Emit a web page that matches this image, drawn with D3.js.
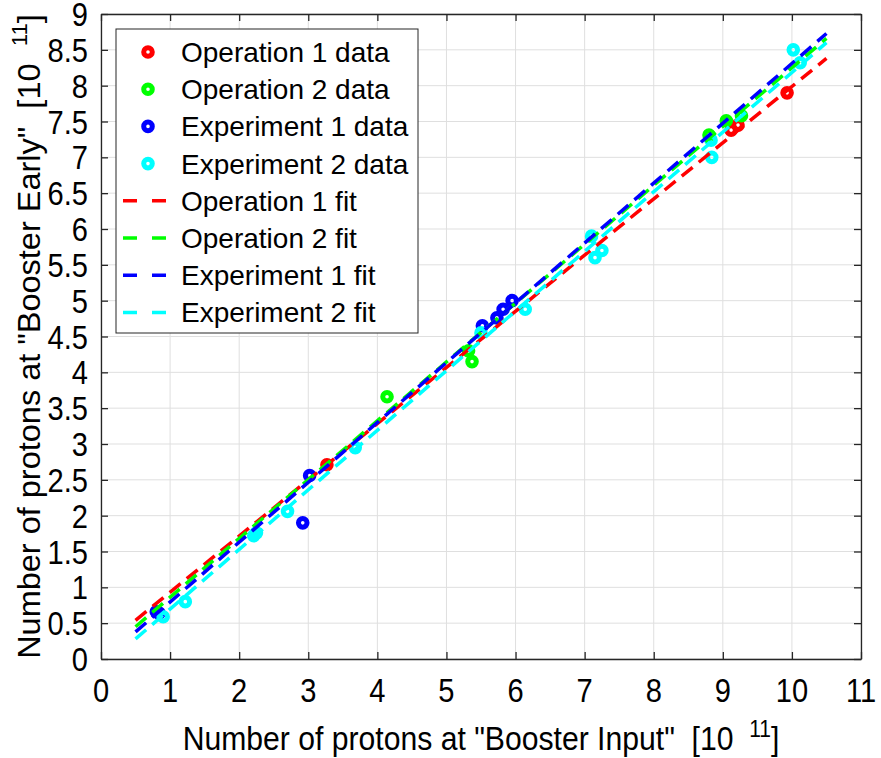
<!DOCTYPE html>
<html>
<head>
<meta charset="utf-8">
<script src="https://cdn.jsdelivr.net/npm/d3@7"></script>
<style>
  html, body { margin: 0; padding: 0; background: #fff; }
  svg { display: block; font-family: "Liberation Sans", Arial, sans-serif; }
</style>
</head>
<body>
<div id="chart"></div>
<script>
'use strict';

// measured data, units of 1e11 protons
const op1X = [3.27, 9.12, 9.22, 9.93];
const op1Y = [2.71, 7.38, 7.45, 7.90];

const op2X = [4.14, 5.32, 5.37, 8.80, 9.05, 9.27];
const op2Y = [3.66, 4.30, 4.15, 7.31, 7.51, 7.58];

const exp1X = [0.80, 0.84, 2.92, 3.02, 5.52, 5.73, 5.82, 5.95];
const exp1Y = [0.66, 0.64, 1.90, 2.56, 4.65, 4.76, 4.88, 5.00];

const exp2X = [0.90, 1.22, 2.21, 2.25, 2.70, 3.68, 5.50, 6.14, 7.10, 7.15, 7.25, 8.84, 8.83, 10.02, 10.12];
const exp2Y = [0.59, 0.80, 1.72, 1.76, 2.06, 2.95, 4.55, 4.88, 5.90, 5.60, 5.70, 7.00, 7.24, 8.50, 8.32];

// linear fits y = a*x + b, drawn over x in [0.5, 10.5]
const fitSlope = [0.784, 0.821, 0.835, 0.832];
const fitIntercept = [0.148, 0.040, -0.040, -0.136];
const fitRange = [0.5, 10.5];

const seriesNames = ["Operation 1", "Operation 2", "Experiment 1", "Experiment 2"];
const seriesColors = ["#ff0000", "#00ff00", "#0000ff", "#00ffff"];

const xTicks = d3.range(0, 12, 1);
const yTicks = d3.range(0, 9.01, 0.5);

const W = 881, H = 758;
const margin = { left: 101, right: 20, top: 14, bottom: 99 };
const pw = W - margin.left - margin.right;
const ph = H - margin.top - margin.bottom;

const svg = d3.select("#chart")
    .append("svg")
    .attr("width", W)
    .attr("height", H);

const x = d3.scaleLinear().domain([0, 11]).range([0, pw]);
const y = d3.scaleLinear().domain([0, 9]).range([ph, 0]);

const g = svg.append("g")
    .attr("transform", "translate(" + margin.left + "," + margin.top + ")");

// grid
g.append("g").selectAll("line")
    .data(xTicks)
    .enter().append("line")
    .attr("x1", d => x(d)).attr("x2", d => x(d))
    .attr("y1", 0).attr("y2", ph)
    .attr("stroke", "#dfdfdf").attr("stroke-width", 1);

g.append("g").selectAll("line")
    .data(yTicks)
    .enter().append("line")
    .attr("x1", 0).attr("x2", pw)
    .attr("y1", d => y(d)).attr("y2", d => y(d))
    .attr("stroke", "#dfdfdf").attr("stroke-width", 1);

// axes, ticks inward on all four sides
const tickLen = 7;
const axisColor = "#262626";

function styleAxis(sel) {
    sel.select(".domain").attr("stroke", axisColor).attr("stroke-width", 1.3);
    sel.selectAll(".tick line").attr("stroke", axisColor).attr("stroke-width", 1.3);
    sel.selectAll(".tick text").remove();
}

g.append("g").attr("transform", "translate(0," + ph + ")")
    .call(d3.axisBottom(x).tickValues(xTicks).tickSize(-tickLen).tickSizeOuter(0))
    .call(styleAxis);
g.append("g")
    .call(d3.axisTop(x).tickValues(xTicks).tickSize(-tickLen).tickSizeOuter(0))
    .call(styleAxis);
g.append("g")
    .call(d3.axisLeft(y).tickValues(yTicks).tickSize(-tickLen).tickSizeOuter(0))
    .call(styleAxis);
g.append("g").attr("transform", "translate(" + pw + ",0)")
    .call(d3.axisRight(y).tickValues(yTicks).tickSize(-tickLen).tickSizeOuter(0))
    .call(styleAxis);

// tick labels (tall, narrow look)
const tickFont = 30, tickSquashX = 0.97, tickStretchY = 1.12;

g.append("g").selectAll("text")
    .data(xTicks)
    .enter().append("text")
    .attr("transform", d => "translate(" + x(d) + "," + (ph + 43) + ") scale(" + tickSquashX + "," + tickStretchY + ")")
    .attr("text-anchor", "middle")
    .attr("font-size", tickFont)
    .attr("fill", "#000")
    .text(d => d);

g.append("g").selectAll("text")
    .data(yTicks)
    .enter().append("text")
    .attr("transform", d => "translate(-13," + (y(d) + 12) + ") scale(" + tickSquashX + "," + tickStretchY + ")")
    .attr("text-anchor", "end")
    .attr("font-size", tickFont)
    .attr("fill", "#000")
    .text(d => d);

// data markers
const dataSets = [
    { xs: op1X, ys: op1Y },
    { xs: op2X, ys: op2Y },
    { xs: exp1X, ys: exp1Y },
    { xs: exp2X, ys: exp2Y }
];

dataSets.forEach(function(s, i) {
    g.append("g").selectAll("circle")
        .data(s.xs.map((v, k) => [v, s.ys[k]]))
        .enter().append("circle")
        .attr("cx", d => x(d[0]))
        .attr("cy", d => y(d[1]))
        .attr("r", 4.3)
        .attr("fill", "none")
        .attr("stroke", seriesColors[i])
        .attr("stroke-width", 5);
});

// fit lines
const line = d3.line().x(d => x(d[0])).y(d => y(d[1]));
fitSlope.forEach(function(a, i) {
    const pts = fitRange.map(v => [v, a * v + fitIntercept[i]]);
    g.append("path")
        .datum(pts)
        .attr("d", line)
        .attr("fill", "none")
        .attr("stroke", seriesColors[i])
        .attr("stroke-width", 3.5)
        .attr("stroke-dasharray", "14,8");
});

// legend
const legend = svg.append("g").attr("transform", "translate(116,29)");
legend.append("rect")
    .attr("width", 302).attr("height", 304)
    .attr("fill", "#fff")
    .attr("stroke", "#262626").attr("stroke-width", 1);

const legendItems = [];
seriesNames.forEach((n, i) => legendItems.push({ label: n + " data", kind: "data", color: seriesColors[i] }));
seriesNames.forEach((n, i) => legendItems.push({ label: n + " fit", kind: "fit", color: seriesColors[i] }));

const rowGap = 37.2;
const rows = legend.selectAll("g.item")
    .data(legendItems)
    .enter().append("g")
    .attr("class", "item")
    .attr("transform", (d, i) => "translate(0," + (23 + i * rowGap) + ")");

rows.filter(d => d.kind === "data").append("circle")
    .attr("cx", 32).attr("cy", 0).attr("r", 4.3)
    .attr("fill", "none")
    .attr("stroke", d => d.color).attr("stroke-width", 5);

rows.filter(d => d.kind === "fit").append("line")
    .attr("x1", 7).attr("x2", 50)
    .attr("y1", 0).attr("y2", 0)
    .attr("stroke", d => d.color)
    .attr("stroke-width", 3.5)
    .attr("stroke-dasharray", "14,15");

rows.append("text")
    .attr("x", 65).attr("y", 10)
    .attr("font-size", 28)
    .attr("fill", "#000")
    .text(d => d.label);

// axis titles, squeezed to the width seen in the reference
function fitWidth(textSel, target) {
    const w = textSel.node().getBBox().width;
    return target / w;
}

const xTitle = svg.append("text")
    .attr("font-size", 33)
    .attr("text-anchor", "middle")
    .attr("fill", "#000")
    .style("white-space", "pre");
xTitle.append("tspan").text('Number of protons at "Booster Input"  [10 ');
xTitle.append("tspan").attr("font-size", 23).attr("dy", -13).attr("dx", 8).text("11");
xTitle.append("tspan").attr("dy", 13).text("]");
const xs = fitWidth(xTitle, 597);
xTitle.attr("transform", "translate(" + (margin.left + pw / 2) + ",750) scale(" + xs + ",1)");

const yTitle = svg.append("text")
    .attr("font-size", 32)
    .attr("text-anchor", "middle")
    .attr("fill", "#000")
    .style("white-space", "pre");
yTitle.append("tspan").text('Number of protons at "Booster Early"  [10 ');
yTitle.append("tspan").attr("font-size", 22).attr("dy", -13).attr("dx", 8).text("11");
yTitle.append("tspan").attr("dy", 13).text("]");
const ys = fitWidth(yTitle, 645);
yTitle.attr("transform", "translate(40," + (margin.top + ph / 2) + ") rotate(-90) scale(" + ys + ",1)");
</script>
</body>
</html>
